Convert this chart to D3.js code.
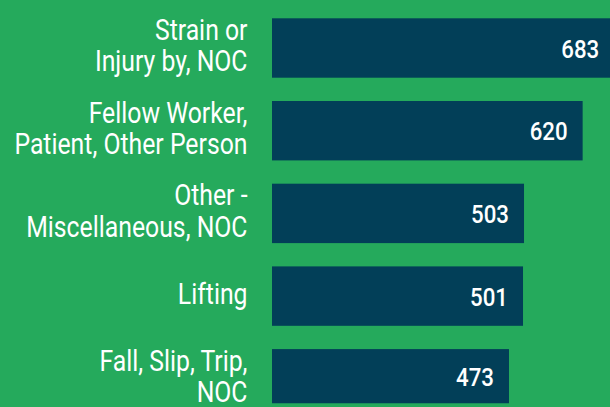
<!DOCTYPE html>
<html>
<head>
<meta charset="utf-8">
<script src="https://cdn.jsdelivr.net/npm/d3@7/dist/d3.min.js"></script>
<style>
  html, body { margin: 0; padding: 0; background: #25aa5c; }
  svg { display: block; }
  text { font-family: Roboto, "Liberation Sans", sans-serif; fill: #ffffff; }
</style>
</head>
<body>
<svg id="chart" width="610" height="407"></svg>
<script>
// Injury causes, one bar per cause (line breaks mark label wrapping)
const categories = [
  "Strain or\nInjury by, NOC",
  "Fellow Worker,\nPatient, Other Person",
  "Other -\nMiscellaneous, NOC",
  "Lifting",
  "Fall, Slip, Trip,\nNOC"
];
const values = [683, 620, 503, 501, 473];

const W = 610, H = 407;
const svg = d3.select("#chart");

const x = d3.scaleLinear().domain([0, 683]).range([272, 614.2]);
const y = d3.scaleBand()
  .domain(categories)
  .range([6.65, 420.15])
  .paddingInner(0.2817)
  .paddingOuter(0.1409);

const plotBottom = 403.3;
const condense = 0.84; // horizontal squeeze for a condensed type look

svg.append("defs").append("clipPath").attr("id", "plot-clip")
  .append("rect").attr("x", 0).attr("y", 0).attr("width", W).attr("height", plotBottom);

const rows = categories.map((c, i) => ({ cat: c, value: values[i] }));

const bars = svg.append("g").attr("clip-path", "url(#plot-clip)");
bars.selectAll("rect")
  .data(rows)
  .join("rect")
  .attr("x", x(0))
  .attr("y", d => y(d.cat))
  .attr("width", d => x(d.value) - x(0))
  .attr("height", y.bandwidth())
  .attr("fill", "#023f58");

// value labels, right-aligned inside the bar end
svg.append("g").selectAll("g")
  .data(rows)
  .join("g")
  .attr("transform", d => {
    const top = y(d.cat), bot = Math.min(top + y.bandwidth(), plotBottom);
    return `translate(${Math.min(x(d.value), W + 10) - 15},${(top + bot) / 2}) scale(${condense},1)`;
  })
  .append("text")
  .attr("dy", "0.36em")
  .attr("text-anchor", "end")
  .style("font-size", "26.5px")
  .style("font-weight", 500)
  .text(d => d.value);

// category labels, wrapped and right-aligned beside the axis
const fs = 29.5, lh = 31.3, capH = 0.711 * fs, labelX = 247.5;
svg.append("g").selectAll("g")
  .data(rows)
  .join("g")
  .attr("transform", `translate(${labelX},0) scale(${condense},1)`)
  .append("text")
  .attr("text-anchor", "end")
  .style("font-size", fs + "px")
  .each(function (d) {
    const lines = d.cat.split("\n");
    const c = y(d.cat) + y.bandwidth() / 2 - 3;
    const first = c + capH / 2 - (lines.length - 1) * lh / 2;
    d3.select(this).selectAll("tspan")
      .data(lines)
      .join("tspan")
      .attr("x", 0)
      .attr("y", (l, i) => first + i * lh)
      .text(l => l);
  });
</script>
</body>
</html>
